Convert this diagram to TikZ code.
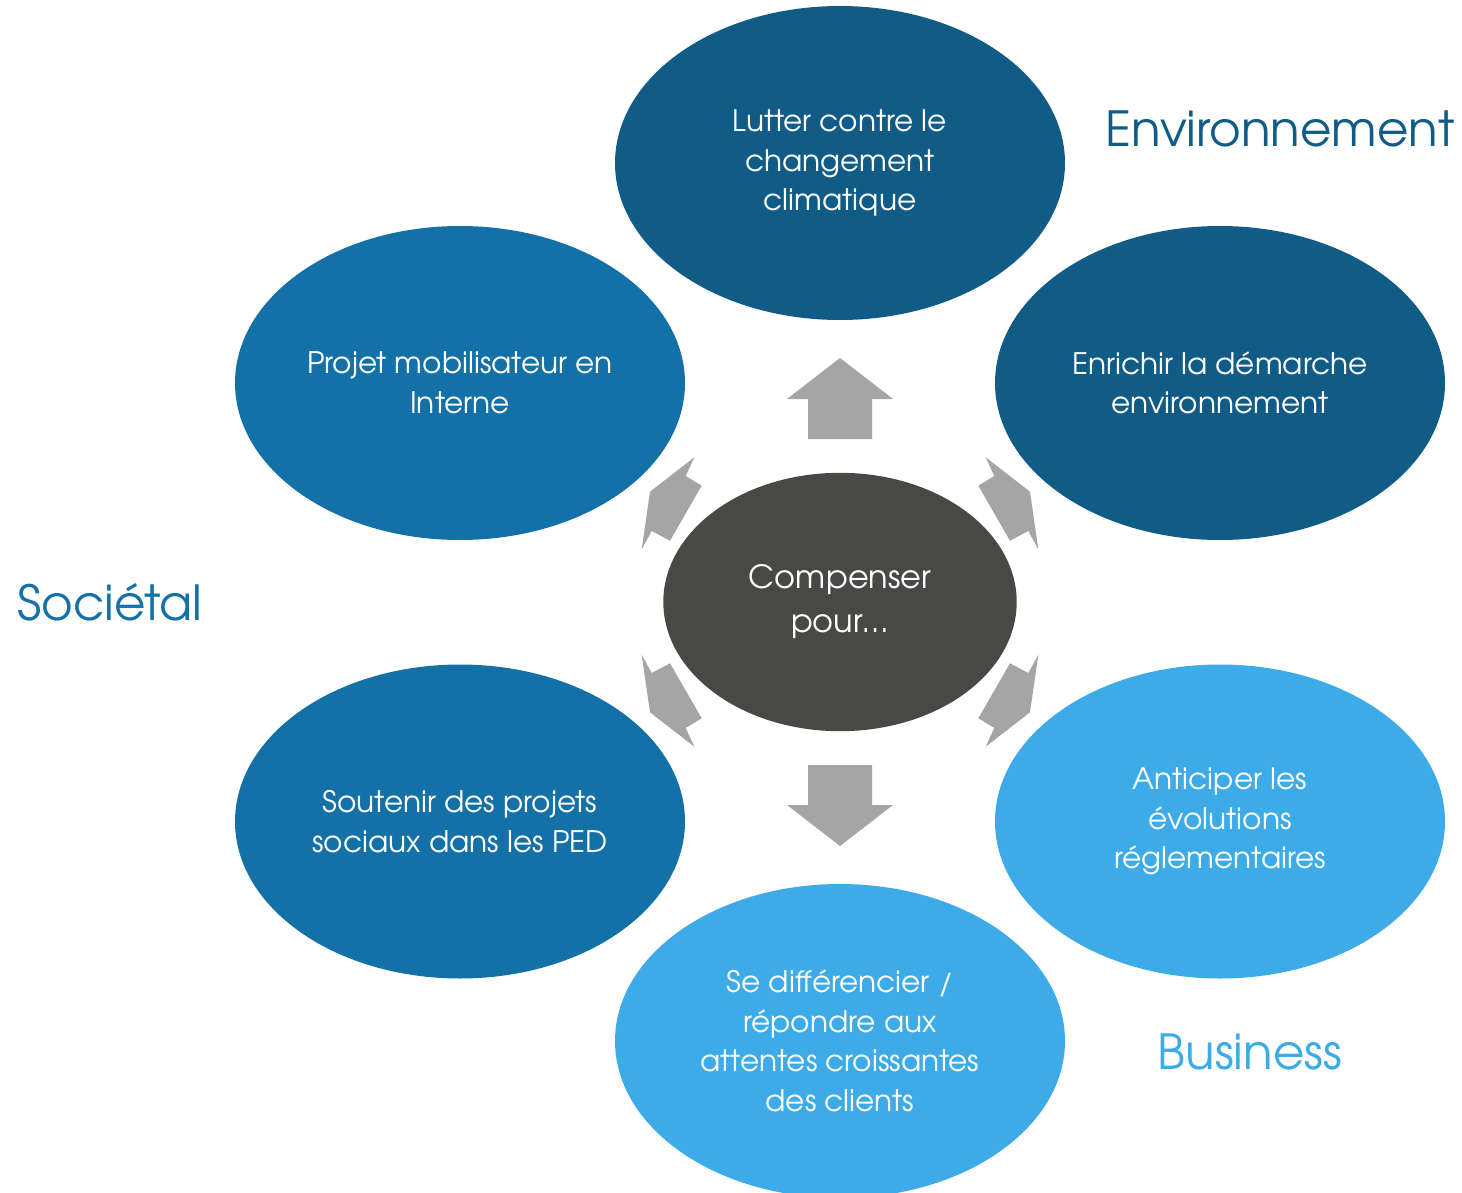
\documentclass[tikz,border=0pt]{standalone}
\usepackage{fontspec}
\setmainfont{TeX Gyre Adventor}
\usetikzlibrary{shapes.geometric}
\definecolor{dkblue}{HTML}{115C87}
\definecolor{mdblue}{HTML}{1471A8}
\definecolor{ltblue}{HTML}{3DABE8}
\definecolor{arrowgray}{HTML}{A5A5A5}
\definecolor{hubgray}{HTML}{484846}
\begin{document}
\begin{tikzpicture}[x=0.5pt,y=-0.5pt,
  bubble/.style={ellipse, minimum width=225pt, minimum height=157pt, inner sep=0pt,
    text=white, align=center, font=\fontsize{14.8}{19.75}\selectfont,
    execute at begin node={\rule{0pt}{17.5pt}}},
  hub/.style={ellipse, fill=hubgray, minimum width=176.7pt, minimum height=129.2pt, inner sep=0pt,
    text=white, align=center, font=\fontsize{16}{22}\selectfont,
    execute at begin node={\rule{0pt}{18.5pt}}},
  arrowshape/.style={fill=arrowgray},
  cat/.style={inner sep=0pt, font=\fontsize{24.2}{28}\selectfont}]
\useasboundingbox (0,0) rectangle (1462,1193);

% arrows
\fill[arrowshape] (840,358) -- (893,399) -- (872,399) -- (872,439) -- (808,439) -- (808,399) -- (787,399) -- cycle;
\fill[arrowshape] (840,846) -- (893,805) -- (872,805) -- (872,765) -- (808,765) -- (808,805) -- (787,805) -- cycle;
\fill[arrowshape] (694.3,457.3) -- (685.7,476) -- (701.7,485.7) -- (670,540.7) -- (651.7,531) -- (641.7,549.3) -- (650,491.7) -- cycle;
\fill[arrowshape] (985.7,457.3) -- (994.3,476) -- (978.3,485.7) -- (1010,540.7) -- (1028.3,531) -- (1038.3,549.3) -- (1030,491.7) -- cycle;
\fill[arrowshape] (694.3,746.7) -- (685.7,728) -- (701.7,718.3) -- (670,663.3) -- (651.7,673) -- (641.7,654.7) -- (650,712.3) -- cycle;
\fill[arrowshape] (985.7,746.7) -- (994.3,728) -- (978.3,718.3) -- (1010,663.3) -- (1028.3,673) -- (1038.3,654.7) -- (1030,712.3) -- cycle;

% bubbles
\node[bubble, fill=dkblue] (top) at (840,163) {Lutter contre le\\changement\\climatique};
\node[bubble, fill=dkblue] (ur) at (1220,383) {Enrichir la démarche\\environnement};
\node[bubble, fill=mdblue] (ul) at (460,383) {Projet mobilisateur en\\Interne};
\node[bubble, fill=mdblue] (ll) at (460,821.5) {Soutenir des projets\\sociaux dans les PED};
\node[bubble, fill=ltblue] (lr) at (1220,821.5) {Anticiper les\\évolutions\\réglementaires};
\node[bubble, fill=ltblue] (bot) at (840,1041) {Se différencier /\\répondre aux\\attentes croissantes\\des clients};
\node[hub] (hub) at (840,602) {Compenser\\pour…};

% category labels
\node[cat, text=dkblue] (env) at (1280,129) {Environnement};
\node[cat, text=mdblue] (soc) at (110,602) {Sociétal};
\node[cat, text=ltblue] (bus) at (1250,1052) {Business};
\end{tikzpicture}
\end{document}
